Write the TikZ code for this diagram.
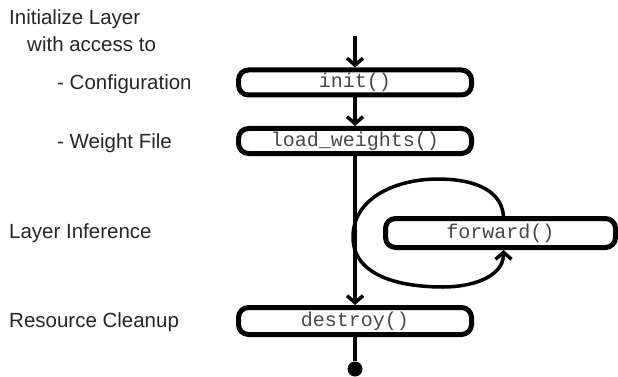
\documentclass[tikz,border=0pt]{standalone}
\usepackage{fontspec}
\setmainfont{Liberation Sans}
\newfontfamily\codefont{Liberation Mono}
\usetikzlibrary{arrows.meta}
\tikzset{
  stage/.style={draw, line width=5pt, rounded corners=10pt, minimum width=233pt,
    minimum height=25pt, inner sep=0pt,
    font=\codefont\fontsize{20}{21}\selectfont, text=black!72},
  flow/.style={line width=3.5pt, -{Straight Barb[length=7pt,width=16pt]}},
  plain/.style={line width=3.5pt},
  note/.style={inner sep=0pt, anchor=base west,
    font=\fontsize{20.5}{22}\selectfont, text=black!85},
}
\begin{document}
\begin{tikzpicture}[x=1pt,y=-1pt]
\useasboundingbox (0,0) rectangle (618,377);

% lifecycle stages
\node[stage] (init) at (355,82.5) {init()};
\node[stage] (lw) at (355,141) {load\_weights()};
\node[stage, minimum width=230pt, minimum height=29pt] (fw) at (500.5,233) {forward()};
\node[stage, minimum height=27pt] (destroy) at (355,321) {destroy()};
\node[circle, fill, minimum size=15pt, inner sep=0pt] (done) at (355,369) {};
\coordinate (start) at (355,36);

% main flow
\draw[flow] (start) -- (init.north);
\draw[flow] (init.south) -- (lw.north);
\draw[flow] (lw.south) -- (destroy.north);
\draw[plain] (destroy.south) -- (done);

% repeated inference loop
\coordinate (ltop) at (438,179);
\coordinate (lleft) at (353,237);
\coordinate (lbot) at (443,287);
\draw[flow] ([xshift=3pt]fw.north) to[out=95,in=0] (ltop)
  to[out=180,in=90] (lleft) to[out=-90,in=180] (lbot)
  to[out=0,in=-90] ([xshift=3pt]fw.south);

% phase descriptions
\node[note] (n1) at (9,25) {Initialize Layer};
\node[note] (n2) at (27,52) {with access to};
\node[note] (n3) at (57,90) {- Configuration};
\node[note] (n4) at (57,148) {- Weight File};
\node[note] (n5) at (9,238) {Layer Inference};
\node[note] (n6) at (9,327) {Resource Cleanup};
\end{tikzpicture}
\end{document}
